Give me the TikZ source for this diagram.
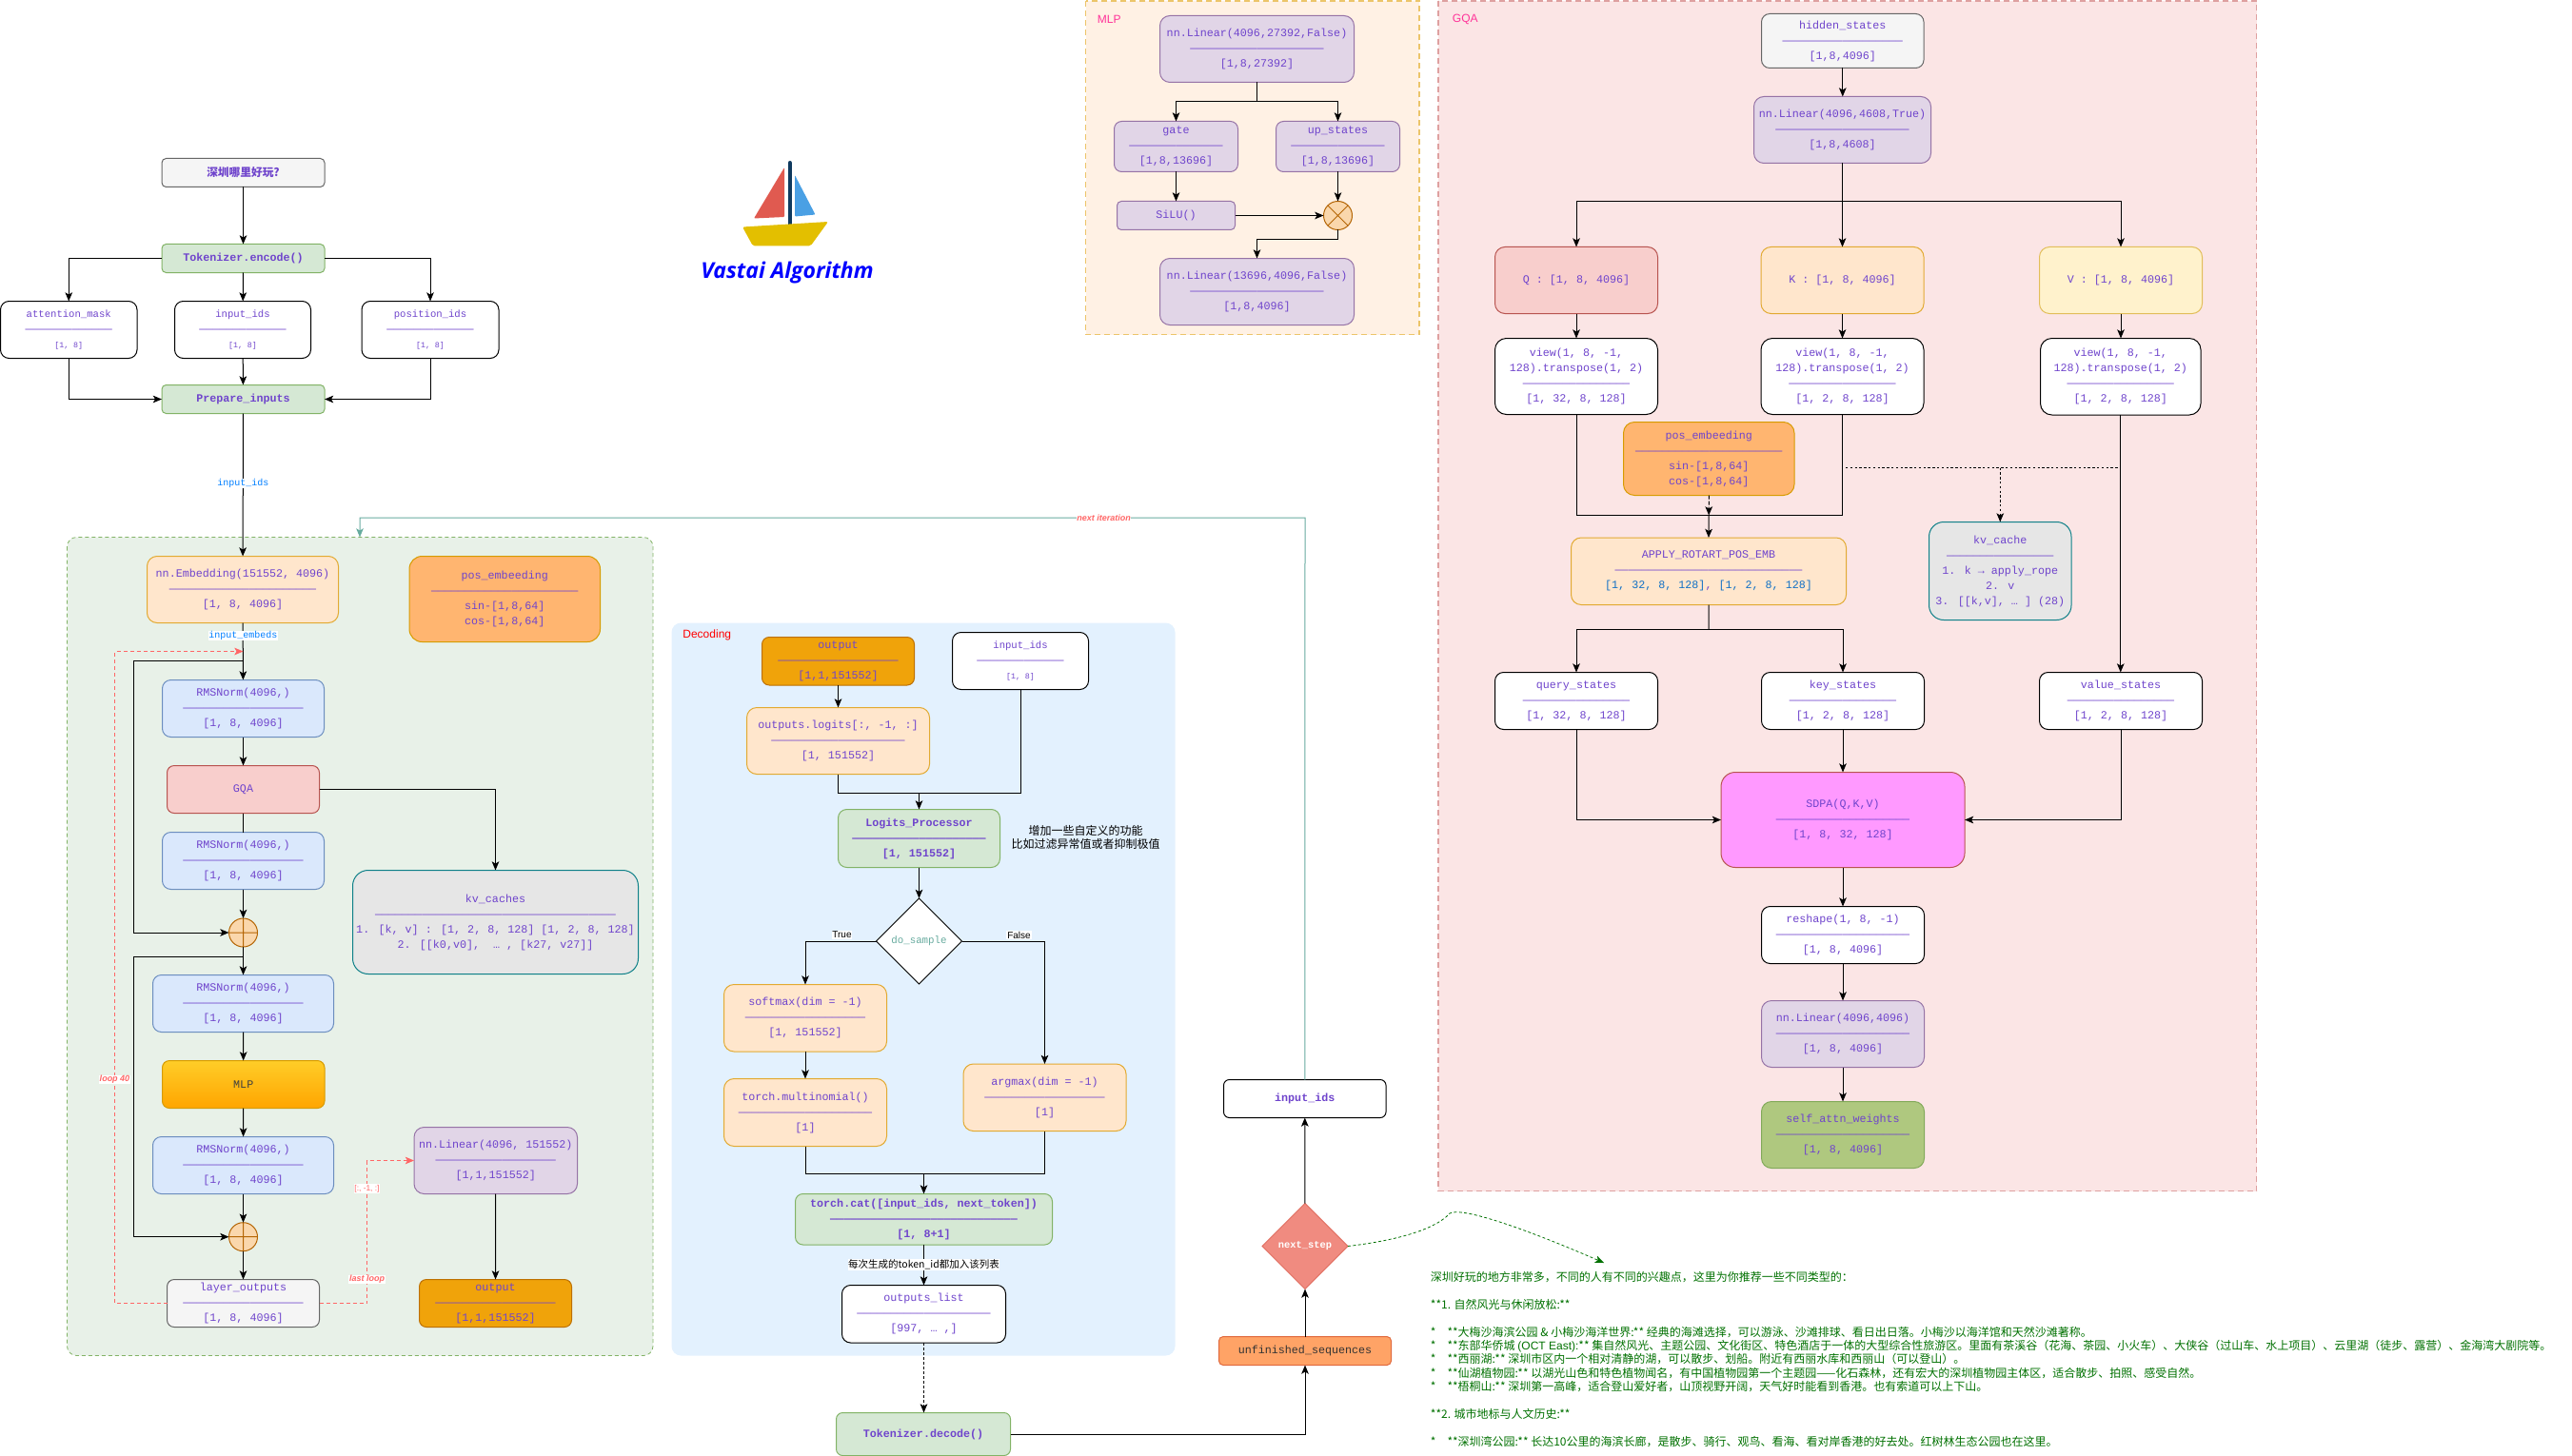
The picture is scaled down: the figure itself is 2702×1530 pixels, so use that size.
\documentclass[tikz,border=0pt]{standalone}
\usepackage{fontspec}
\usetikzlibrary{arrows.meta,shapes.geometric}
\newfontfamily\monof{Liberation Mono}
\newfontfamily\cjkf{Noto Sans CJK SC}
\newfontfamily\sansf{Liberation Sans}
\newfontfamily\logof{Open Sans}
\newcommand\fsz[2]{\fontsize{#1}{#2}\selectfont}
\newcommand\sepl[1]{\count255=#1\relax\loop\ifnum\count255>0 —\advance\count255 -1\relax\repeat}
\definecolor{txtp}{HTML}{6F44CC}
\definecolor{teal1}{HTML}{67AB9F}
\definecolor{redd}{HTML}{FF6666}
\definecolor{labb}{HTML}{007FFF}
\definecolor{pinkl}{HTML}{FF3399}
\definecolor{opedge}{HTML}{B46504}
\definecolor{applyb}{HTML}{0F6FC6}
\definecolor{notegreen}{HTML}{007000}
\newcommand\bx[7]{\pgfmathsetmacro\rr{0.075*min(#5-#3,#6-#4)}\node[#2,rounded corners=\rr pt,minimum width={(#5-#3)*0.5pt},minimum height={(#6-#4)*0.5pt}] (#1) at ({(#3+#5)/2},{(#4+#6)/2}) {#7};}
\tikzset{
 bxb/.style={draw,align=center,font=\monof\fsz{5.85}{8},text=txtp,inner sep=0pt,outer sep=0pt,line width=0.5pt},
 bf/.style={font=\monof\bfseries\fsz{5.85}{8}},
 cwhite/.style={bxb,fill=white,draw=black},
 cgrey/.style={bxb,fill=black!4,draw=black!60},
 cgreen/.style={bxb,fill={rgb,255:red,213;green,232;blue,212},draw={rgb,255:red,130;green,179;blue,102}},
 corange/.style={bxb,fill={rgb,255:red,255;green,230;blue,204},draw={rgb,255:red,226;green,170;blue,50}},
 cblue/.style={bxb,fill={rgb,255:red,218;green,232;blue,252},draw={rgb,255:red,108;green,142;blue,191}},
 cred/.style={bxb,fill={rgb,255:red,248;green,206;blue,204},draw={rgb,255:red,184;green,84;blue,80}},
 cpurple/.style={bxb,fill={rgb,255:red,225;green,213;blue,231},draw={rgb,255:red,150;green,115;blue,166}},
 cyellow/.style={bxb,fill={rgb,255:red,255;green,242;blue,204},draw={rgb,255:red,226;green,190;blue,90}},
 cpos/.style={bxb,fill={rgb,255:red,255;green,181;blue,112},draw={rgb,255:red,215;green,155;blue,0}},
 ckv/.style={bxb,fill={rgb,255:red,230;green,230;blue,230},draw={rgb,255:red,14;green,128;blue,136}},
 coutp/.style={bxb,fill={rgb,255:red,240;green,163;blue,10},draw={rgb,255:red,189;green,112;blue,0}},
 cpink/.style={bxb,fill={rgb,255:red,255;green,153;blue,255},draw={rgb,255:red,184;green,84;blue,80}},
 cleaf/.style={bxb,fill={rgb,255:red,175;green,200;blue,127},draw={rgb,255:red,130;green,170;blue,90}},
 cmlp/.style={bxb,top color={rgb,255:red,255;green,205;blue,40},bottom color={rgb,255:red,255;green,165;blue,0},draw={rgb,255:red,215;green,155;blue,0},text=black!75},
 cunf/.style={bxb,fill={rgb,255:red,255;green,163;blue,102},draw={rgb,255:red,224;green,105;blue,61},text=black!80},
 arr/.style={-{Stealth[length=4.6pt,width=3.8pt,inset=1.1pt]},line width=0.5pt,draw=black},
 lin/.style={line width=0.5pt,draw=black},
 opc/.style={circle,draw=opedge,fill={rgb,255:red,250;green,215;blue,172},minimum size=15pt,inner sep=0pt,outer sep=0pt,line width=0.5pt},
 reddash/.style={draw=redd,dash pattern=on 2pt off 1.5pt,line width=0.4pt,-{Stealth[length=4.6pt,width=3.8pt,inset=1.1pt]}},
 labl/.style={fill=white,inner sep=0.4pt,text=labb,font=\monof\fsz{5}{6}},
 labr/.style={fill=white,inner sep=0.3pt,text=redd,font=\sansf\bfseries\itshape\fsz{4.5}{5}},
 labk/.style={fill=white,inner sep=0.4pt,text=black,font=\sansf\fsz{5}{6}},
 ctitle/.style={anchor=west,inner sep=0pt,text=pinkl,font=\sansf\fsz{6}{7}},
 note/.style={align=left,anchor=north west,inner sep=0pt,text=notegreen,font=\cjkf\fsz{6}{7.2}},
}
\begin{document}
\begin{tikzpicture}[x=0.5pt,y=-0.5pt]
\useasboundingbox (0,0) rectangle (2702,1530);
% containers
\path[fill={rgb,255:red,232;green,241;blue,232},draw={rgb,255:red,130;green,179;blue,102},line width=0.4pt,rounded corners=5pt,dash pattern=on 2pt off 1.5pt] (70.5,564.5) rectangle (686,1424.5);
\path[fill={rgb,255:red,227;green,241;blue,254},rounded corners=5pt] (705.5,654.5) rectangle (1234.5,1424.5);
\path[fill={rgb,255:red,255;green,241;blue,228},draw={rgb,255:red,236;green,197;blue,106},line width=0.75pt,dash pattern=on 3pt off 2pt] (1140.5,1) rectangle (1491,351.5);
\path[fill={rgb,255:red,251;green,229;blue,229},draw={rgb,255:red,222;green,160;blue,160},line width=0.75pt,dash pattern=on 3pt off 2pt] (1511,1) rectangle (2370.5,1251.5);
\node[ctitle] (tMLP) at (1152.5,20.5) {MLP};
\node[ctitle] (tGQA) at (1525.5,20.5) {GQA};
\node[anchor=west,inner sep=0pt,text=red,font=\sansf\fsz{6}{7}] (tDec) at (717,667.5) {Decoding};
% logo
\path[fill={rgb,255:red,224;green,90;blue,80},rounded corners=0.5pt] (824,176) -- (792,229.5) -- (824,228) -- cycle;
\path[fill={rgb,255:red,74;green,160;blue,228},rounded corners=0.5pt] (835,184) -- (835,227.5) -- (856.5,225.5) -- cycle;
\path[draw={rgb,255:red,15;green,58;blue,95},line width=2pt,line cap=round] (829.7,171) -- (829.7,236);
\path[fill={rgb,255:red,227;green,191;blue,0},rounded corners=1pt] (780,238.5) -- (870,233) -- (851.5,258.5) -- (791,258.5) -- cycle;
\node[inner sep=0pt,text=blue,font=\logof\bfseries\itshape\fsz{11.5}{13}] (logoT) at (827,286.5) {Vastai Algorithm};
% left top
\bx{qq}{cgrey}{170}{166.5}{341}{196.5}{\cjkf\bfseries 深圳哪里好玩?}
\bx{enc}{cgreen,bf}{170}{256.5}{341}{286.5}{Tokenizer.encode()}
\newcommand\smallthree[1]{\fsz{5.3}{8}#1\\\sepl{13}\\\fsz{4.15}{8}[1, 8]}
\bx{amask}{cwhite}{0.5}{316.5}{144}{376.5}{\smallthree{attention\_mask}}
\bx{iids}{cwhite}{183.5}{316.5}{326.5}{376.5}{\smallthree{input\_ids}}
\bx{pids}{cwhite}{380}{316.5}{524}{376.5}{\smallthree{position\_ids}}
\bx{prep}{cgreen,bf}{170}{404.5}{341}{434.5}{Prepare\_inputs}
% main stack
\bx{emb}{corange}{154.5}{584.5}{355.5}{654.5}{nn.Embedding(151552, 4096)\\\sepl{22}\\{}[1, 8, 4096]}
\bx{pos}{cpos}{430}{584.5}{630.5}{674.5}{pos\_embeeding\\\sepl{22}\\sin-[1,8,64]\\cos-[1,8,64]}
\bx{rms1}{cblue}{170.5}{714.5}{340.5}{774.5}{RMSNorm(4096,)\\\sepl{18}\\{}[1, 8, 4096]}
\bx{gqa}{cred}{175.5}{804.5}{335.5}{854.5}{GQA}
\bx{rms2}{cblue}{170.5}{874.5}{340.5}{934.5}{RMSNorm(4096,)\\\sepl{18}\\{}[1, 8, 4096]}
\node[opc] (add1) at (255.5,980) {};
\bx{kvs}{ckv}{370.5}{914.5}{670.5}{1023.5}{kv\_caches\\\sepl{36}\\1. [k, v] : [1, 2, 8, 128] [1, 2, 8, 128]\\2. [[k0,v0],~ … , [k27, v27]]}
\bx{rms3}{cblue}{160.5}{1024.5}{350.5}{1084.5}{RMSNorm(4096,)\\\sepl{18}\\{}[1, 8, 4096]}
\bx{mlp}{cmlp}{170.5}{1114.5}{341}{1164.5}{MLP}
\bx{rms4}{cblue}{160.5}{1194.5}{350.5}{1254.5}{RMSNorm(4096,)\\\sepl{18}\\{}[1, 8, 4096]}
\node[opc] (add2) at (255.5,1299.7) {};
\bx{layer}{cgrey}{175.5}{1344.5}{335.5}{1394.5}{layer\_outputs\\\sepl{18}\\{}[1, 8, 4096]}
\bx{lin3}{cpurple}{435}{1184.5}{606.5}{1254.5}{nn.Linear(4096, 151552)\\\sepl{18}\\{}[1,1,151552]}
\bx{out1}{coutp}{440.5}{1344.5}{600.5}{1394.5}{output\\\sepl{18}\\{}[1,1,151552]}
% decoding
\bx{out2}{coutp}{800.5}{669.5}{960.5}{720}{output\\\sepl{18}\\{}[1,1,151552]}
\bx{iid2}{cwhite}{1000.5}{664.5}{1143.5}{724.5}{\smallthree{input\_ids}}
\bx{logi}{corange}{784.5}{743.5}{976.5}{813.5}{outputs.logits[:, -1, :]\\\sepl{20}\\{}[1, 151552]}
\bx{proc}{cgreen,bf}{880.5}{850.5}{1050.5}{911.5}{Logits\_Processor\\\sepl{20}\\{}[1, 151552]}
\node[anchor=center,align=center,inner sep=0pt,font=\cjkf\fsz{6}{7.3},text=black] (ann) at (1140.5,880) {增加一些自定义的功能\\比如过滤异常值或者抑制极值};
\node[diamond,draw=black,fill=white,line width=0.5pt,inner sep=0pt,outer sep=0pt,minimum width=45pt,minimum height=45pt,text=teal1,font=\monof\fsz{5.4}{7}] (dosam) at (965.5,989) {do\_sample};
\bx{softm}{corange}{760.5}{1034.5}{931.5}{1105}{softmax(dim = -1)\\\sepl{18}\\{}[1, 151552]}
\bx{multi}{corange}{760.5}{1133.5}{931.5}{1204.5}{torch.multinomial()\\\sepl{20}\\{}[1]}
\bx{argm}{corange}{1012}{1118}{1183}{1188.5}{argmax(dim = -1)\\\sepl{18}\\{}[1]}
\bx{tcat}{cgreen,bf}{835.5}{1254.5}{1105.5}{1308}{torch.cat([input\_ids, next\_token])\\\sepl{28}\\{}[1, 8+1]}
\bx{olist}{cwhite}{884.5}{1350.5}{1056.5}{1411}{outputs\_list\\\sepl{20}\\{}[997, … ,]}
\bx{deco}{cgreen,bf}{878.5}{1484.5}{1061.5}{1529.5}{Tokenizer.decode()}
% right of decoding
\bx{unf}{cunf}{1280.5}{1404.5}{1461.5}{1434.5}{unfinished\_sequences}
\node[diamond,draw={rgb,255:red,224;green,110;blue,96},fill={rgb,255:red,240;green,139;blue,128},line width=0.5pt,inner sep=0pt,outer sep=0pt,minimum width=45pt,minimum height=45pt,text=white,font=\monof\bfseries\fsz{5.2}{7}] (nstep) at (1371,1309.5) {next\_step};
\bx{iid3}{cwhite,bf}{1285.5}{1134.5}{1456}{1174.5}{input\_ids}
% MLP
\bx{mla}{cpurple}{1218.5}{16.5}{1422.5}{86.5}{nn.Linear(4096,27392,False)\\\sepl{20}\\{}[1,8,27392]}
\bx{gate}{cpurple}{1170.5}{127.5}{1300.5}{180.5}{gate\\\sepl{14}\\{}[1,8,13696]}
\bx{upst}{cpurple}{1340.5}{127.5}{1470.5}{180.5}{up\_states\\\sepl{14}\\{}[1,8,13696]}
\bx{silu}{cpurple}{1173.5}{211.5}{1297.5}{241.5}{SiLU()}
\node[opc] (mulc) at (1405.5,226.5) {};
\bx{mlb}{cpurple}{1218.5}{271.5}{1422.5}{341.5}{nn.Linear(13696,4096,False)\\\sepl{20}\\{}[1,8,4096]}
% GQA
\bx{hid}{cgrey}{1850.5}{14.5}{2021}{71.5}{hidden\_states\\\sepl{18}\\{}[1,8,4096]}
\bx{glin}{cpurple}{1842.5}{101.5}{2028.5}{171.5}{nn.Linear(4096,4608,True)\\\sepl{20}\\{}[1,8,4608]}
\bx{qb}{cred}{1570.5}{259.5}{1741.5}{329.5}{Q : [1, 8, 4096]}
\bx{kb}{corange}{1850}{259.5}{2021}{329.5}{K : [1, 8, 4096]}
\bx{vb}{cyellow}{2142.5}{259.5}{2313.5}{329.5}{V : [1, 8, 4096]}
\bx{vq}{cwhite}{1570.5}{355.5}{1741.5}{435.5}{view(1, 8, -1,\\128).transpose(1, 2)\\\sepl{16}\\{}[1, 32, 8, 128]}
\bx{vk}{cwhite}{1850}{355.5}{2021}{435.5}{view(1, 8, -1,\\128).transpose(1, 2)\\\sepl{16}\\{}[1, 2, 8, 128]}
\bx{vv}{cwhite}{2143.5}{355.5}{2312}{436}{view(1, 8, -1,\\128).transpose(1, 2)\\\sepl{16}\\{}[1, 2, 8, 128]}
\bx{gpos}{cpos}{1705.5}{443.5}{1885}{520.5}{pos\_embeeding\\\sepl{22}\\sin-[1,8,64]\\cos-[1,8,64]}
\bx{appl}{corange}{1650.5}{565}{1939.5}{635.5}{APPLY\_ROTART\_POS\_EMB\\\sepl{28}\\\textcolor{applyb}{[1, 32, 8, 128]},\ \textcolor{applyb}{[1, 2, 8, 128]}}
\bx{kvc}{ckv}{2026.5}{548.5}{2176}{651.5}{kv\_cache\\\sepl{16}\\1. k → apply\_rope\\2. v\\3. [[k,v], … ] (28)}
\bx{qs}{cwhite}{1570.5}{706.5}{1741.5}{766.5}{query\_states\\\sepl{16}\\{}[1, 32, 8, 128]}
\bx{ks}{cwhite}{1850.5}{706.5}{2021.5}{766.5}{key\_states\\\sepl{16}\\{}[1, 2, 8, 128]}
\bx{vs}{cwhite}{2142.5}{706.5}{2313.5}{766.5}{value\_states\\\sepl{16}\\{}[1, 2, 8, 128]}
\bx{sdpa}{cpink}{1808}{811.5}{2064}{911.5}{SDPA(Q,K,V)\\\sepl{20}\\{}[1, 8, 32, 128]}
\bx{resh}{cwhite}{1850.5}{952.5}{2021.5}{1012.5}{reshape(1, 8, -1)\\\sepl{20}\\{}[1, 8, 4096]}
\bx{glin2}{cpurple}{1850.5}{1051.5}{2021.5}{1121.5}{nn.Linear(4096,4096)\\\sepl{20}\\{}[1, 8, 4096]}
\bx{selfa}{cleaf}{1850.5}{1157.5}{2021.5}{1227.5}{self\_attn\_weights\\\sepl{20}\\{}[1, 8, 4096]}
% operator marks
\draw[opedge,line width=0.5pt] (add1.west) -- (add1.east) (add1.north) -- (add1.south) (add2.west) -- (add2.east) (add2.north) -- (add2.south) (mulc.north west) -- (mulc.south east) (mulc.north east) -- (mulc.south west);
% connectors left
\draw[arr] (qq) -- (enc);
\draw[arr] (enc.west) -| (amask.north);
\draw[arr] (enc) -- (iids);
\draw[arr] (enc.east) -| (pids.north);
\draw[arr] (amask.south) |- (prep.west);
\draw[arr] (iids) -- (prep);
\draw[arr] (pids.south) |- (prep.east);
\draw[arr] (prep) -- (emb);
\node[labl] (lbIds) at (255.5,508) {input\_ids};
\draw[arr] (emb) -- (rms1);
\node[labl] (lbEmb) at (255.5,668) {input\_embeds};
\draw[arr] (rms1) -- (gqa);
\draw[lin] (gqa) -- (rms2);
\draw[arr] (rms2) -- (add1);
\draw[arr] (gqa.east) -| (kvs.north);
\coordinate (l1a) at (255.5,694.5);
\coordinate (l1b) at (140.5,694.5);
\draw[arr] (l1a) -- (l1b) |- (add1.west);
\draw[arr] (add1) -- (rms3);
\coordinate (l2a) at (255.5,1005);
\coordinate (l2b) at (140.5,1005);
\draw[arr] (l2a) -- (l2b) |- (add2.west);
\draw[arr] (rms3) -- (mlp);
\draw[arr] (mlp) -- (rms4);
\draw[arr] (rms4) -- (add2);
\draw[arr] (add2) -- (layer);
\draw[arr] (lin3) -- (out1);
\coordinate (r1) at (120.5,684.5);
\coordinate (r2) at (255.5,684.5);
\draw[reddash] (layer.west) -| (r1) -- (r2);
\coordinate (r3) at (385.5,1219.5);
\draw[reddash] (layer.east) -| (r3) -- (lin3.west |- r3);
\node[labr] (lb40) at (120.5,1134.5) {loop 40};
\node[fill=white,inner sep=0.3pt,text=redd,font=\sansf\fsz{4.2}{5}] (lbsl) at (385.5,1249) {[:, -1, :]};
\node[labr] (lblast) at (385.5,1344.5) {last loop};
% connectors decoding
\draw[arr] (out2) -- (out2.south |- logi.north);
\coordinate (dj) at (965.5,833.5);
\draw[lin] (logi.south) |- (dj);
\draw[lin] (iid2.south) |- (dj);
\draw[arr] (dj) -- (proc.north);
\draw[arr] (proc) -- (dosam);
\draw[arr] (dosam.west) -| (softm.north);
\draw[arr] (dosam.east) -| (argm.north);
\node[labk] (lbT) at (884.5,982.5) {True};
\node[labk] (lbF) at (1070.5,982.5) {False};
\draw[arr] (softm) -- (multi);
\coordinate (dk) at (970.5,1233.5);
\draw[lin] (multi.south) |- (dk);
\draw[lin] (argm.south) |- (dk);
\draw[arr] (dk) -- (tcat.north);
\draw[arr] (tcat) -- (olist);
\node[fill=white,inner sep=0.3pt,text=black,font=\cjkf\fsz{5.25}{6}] (lbEach) at (970.5,1329) {每次生成的token\_id都加入该列表};
\draw[arr,dash pattern=on 1.5pt off 1pt] (olist.south) -- (olist.south |- deco.north);
\draw[arr] (deco.east) -| (unf.south);
\draw[arr] (unf) -- (nstep);
\draw[arr] (nstep) -- (iid3);
\coordinate (t1) at (1371,544);
\coordinate (t2) at (378,544);
\coordinate (t3) at (378,564.5);
\draw[arr,draw=teal1] (iid3.north) -- (t1) -- (t2) -- (t3);
\node[labr] (lbNext) at (1159.5,544) {next iteration};
% next_step curve
\coordinate (ctip) at (1685,1327);
\draw[draw=notegreen,dash pattern=on 1.5pt off 1.2pt,line width=0.4pt,-{Stealth[length=4.6pt,width=3.8pt,inset=1.1pt]}] (nstep.east) .. controls (1455,1305) and (1505,1295) .. (1523,1275) .. controls (1535,1268) and (1600,1290) .. (ctip);
% connectors MLP
\coordinate (mj) at (1320.5,106.5);
\draw[arr] (mla.south) -- (mj) -| (gate.north);
\draw[arr] (mj) -| (upst.north);
\draw[arr] (gate) -- (gate.south |- silu.north);
\draw[arr] (upst) -- (mulc);
\draw[arr] (silu) -- (mulc);
\coordinate (mk) at (1405.5,251.5);
\draw[arr] (mulc.south) -- (mk) -| (mlb.north);
% connectors GQA
\draw[arr] (hid) -- (hid.south |- glin.north);
\coordinate (gj) at (1935.5,211.5);
\draw[lin] (glin.south) -- (gj);
\draw[arr] (gj) -| (qb.north);
\draw[arr] (gj) -| (vb.north);
\draw[arr] (gj) -- (gj |- kb.north);
\draw[arr] (qb) -- (vq);
\draw[arr] (kb) -- (vk);
\draw[arr] (vb.south) -- (vb.south |- vv.north);
\coordinate (gk) at (1795.2,541.5);
\draw[lin] (vq.south) |- (gk);
\draw[lin] (vk.south) |- (gk);
\draw[arr,dash pattern=on 2pt off 1pt] (gpos.south) -- (gk);
\draw[arr] (gk) -- (appl.north);
\coordinate (gd1) at (1939,491.5);
\coordinate (gd2) at (2225,491.5);
\draw[lin,dash pattern=on 1.2pt off 1.2pt] (gd1) -- (gd2);
\draw[arr,dash pattern=on 1.2pt off 1.2pt] (kvc.north |- gd1) -- (kvc.north);
\coordinate (gl) at (1795.2,661.5);
\draw[lin] (appl.south) -- (gl);
\draw[arr] (gl) -| (qs.north);
\draw[arr] (gl) -| (ks.north);
\draw[arr] (vv.south) -- (vv.south |- vs.north);
\draw[arr] (qs.south) |- (sdpa.west);
\draw[arr] (ks) -- (ks.south |- sdpa.north);
\draw[arr] (vs.south) |- (sdpa.east);
\draw[arr] (sdpa) -- (sdpa.south |- resh.north);
\draw[arr] (resh) -- (glin2);
\draw[arr] (glin2) -- (selfa);
% response text
\node[note] (resp) at (1502.5,1336) {深圳好玩的地方非常多，不同的人有不同的兴趣点，这里为你推荐一些不同类型的：\\[7.2pt]
**1. 自然风光与休闲放松:**\\[7.2pt]
*\hspace{6pt}**大梅沙海滨公园 \& 小梅沙海洋世界:** 经典的海滩选择，可以游泳、沙滩排球、看日出日落。小梅沙以海洋馆和天然沙滩著称。\\
*\hspace{6pt}**东部华侨城 {\sansf (OCT East):}** 集自然风光、主题公园、文化街区、特色酒店于一体的大型综合性旅游区。里面有茶溪谷（花海、茶园、小火车）、大侠谷（过山车、水上项目）、云里湖（徒步、露营）、金海湾大剧院等。\\
*\hspace{6pt}**西丽湖:** 深圳市区内一个相对清静的湖，可以散步、划船。附近有西丽水库和西丽山（可以登山）。\\
*\hspace{6pt}**仙湖植物园:** 以湖光山色和特色植物闻名，有中国植物园第一个主题园——化石森林，还有宏大的深圳植物园主体区，适合散步、拍照、感受自然。\\
*\hspace{6pt}**梧桐山:** 深圳第一高峰，适合登山爱好者，山顶视野开阔，天气好时能看到香港。也有索道可以上下山。\\[7.2pt]
**2. 城市地标与人文历史:**\\[7.2pt]
*\hspace{6pt}**深圳湾公园:** 长达10公里的海滨长廊，是散步、骑行、观鸟、看海、看对岸香港的好去处。红树林生态公园也在这里。};
\end{tikzpicture}
\end{document}
